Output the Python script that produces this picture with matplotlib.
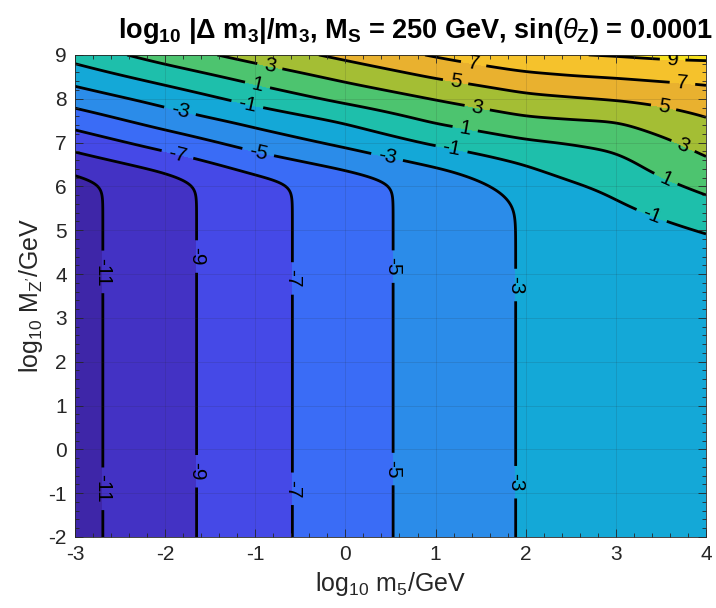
import numpy as np
import matplotlib
matplotlib.use('Agg')
import matplotlib.pyplot as plt
from matplotlib.ticker import MultipleLocator

plt.rcParams['font.family'] = ['Liberation Sans', 'DejaVu Sans']
plt.rcParams['axes.unicode_minus'] = False
plt.rcParams['contour.negative_linestyle'] = 'solid'
plt.rcParams['mathtext.fontset'] = 'custom'
plt.rcParams['mathtext.rm'] = 'Liberation Sans'
plt.rcParams['mathtext.it'] = 'Liberation Sans:italic'
plt.rcParams['mathtext.bf'] = 'Liberation Sans:bold'

# grid nodes in log10 m5 / log10 MZ'
x_nodes = np.array([-3, -2, -1, 0, 1, 2, 2.5, 3, 3.5, 4])
y_nodes = np.array([-2, 4, 4.5, 5, 5.5, 6, 6.5, 7, 7.5, 8, 8.5, 9])

# log10 of the m5 piece (no MZ' dependence)
mass_term = np.array([-11.6, -9.66, -7.77, -5.9, -4.2, -2.85, -2.45, -2.2, -2.05, -1.95])

# log10 of the Z' piece, one row per y node, one column per x node
zprime_term = np.array([
    [-44.1, -42.3, -40.1, -38.5, -36.8, -31.2, -30.0, -28.1, -27.7, -27.2],
    [-20.1, -18.3, -16.1, -14.5, -12.76, -7.2, -6.0, -4.08, -3.7, -3.2],
    [-18.1, -16.3, -14.1, -12.5, -10.76, -5.95, -4.8, -3.18, -2.6, -2.0],
    [-16.1, -14.3, -12.1, -10.5, -8.76, -4.7, -3.6, -2.28, -1.57, -0.86],
    [-14.1, -12.3, -10.1, -8.5, -6.76, -3.45, -2.4, -1.38, -0.51, 0.3],
    [-12.1, -10.3, -8.1, -6.5, -4.76, -2.2, -1.28, -0.49, 0.55, 1.45],
    [-10.12, -8.27, -6.1, -4.5, -2.75, -0.93, -0.11, 0.40, 1.6, 2.59],
    [-8.16, -6.16, -4.2, -2.54, -0.69, 0.73, 1.11, 1.5, 2.63, 3.7],
    [-6.16, -4.14, -2.4, -0.73, 1.26, 2.62, 2.89, 3.08, 3.97, 4.8],
    [-4.13, -2.27, -0.3, 1.5, 3.11, 4.51, 4.84, 5.16, 5.57, 6.08],
    [-2.15, -0.21, 1.7, 3.5, 5.16, 6.48, 6.88, 7.12, 7.4, 7.58],
    [-0.24, 1.9, 3.8, 5.5, 7.2, 8.76, 8.92, 9.12, 9.4, 9.5],
])

line_levels = [-11, -9, -7, -5, -3, -1, 1, 3, 5, 7, 9]
fill_levels = [-60] + line_levels + [60]
band_colors = ['#3e26a8', '#4332c4', '#4549e7', '#3a6cf6', '#2b8ce9', '#14a8d7',
               '#1ebfab', '#4dc46f', '#a4be34', '#e9b12f', '#f5c22c', '#f7e11e']

# where the contour labels sit
label_pos = [(-2.71, -0.9), (-1.66, -0.5), (-0.58, -0.9), (0.535, -0.45), (1.86, -0.75),
             (-2.71, 4.05), (-1.66, 4.4), (-0.58, 3.9), (0.535, 4.17), (1.86, 3.75),
             (-0.84, 8.73), (-0.98, 8.27), (-1.09, 7.86), (-1.84, 7.68), (-0.97, 6.76), (-1.87, 6.67),
             (1.42, 8.77), (1.22, 8.36), (1.46, 7.77), (1.33, 7.33), (1.18, 6.88), (0.46, 6.65),
             (3.63, 8.89), (3.74, 8.38), (3.53, 7.81), (3.74, 6.90), (3.55, 6.15), (3.40, 5.35)]


def blur(a, sigma, axis):
    # gaussian smoothing along one axis, odd reflection keeps edge slopes
    r = int(3 * sigma)
    k = np.exp(-0.5 * (np.arange(-r, r + 1) / sigma) ** 2)
    k /= k.sum()
    a = np.moveaxis(a, axis, -1)
    p = np.pad(a, [(0, 0), (r, r)], mode='reflect', reflect_type='odd')
    out = np.array([np.convolve(row, k, mode='valid') for row in p])
    return np.moveaxis(out, -1, axis)


# put both pieces on a fine mesh and add them
xf = np.linspace(-3, 4, 701)
yf = np.linspace(-2, 9, 1101)
rows = np.array([np.interp(xf, x_nodes, r) for r in zprime_term])
zp = np.array([np.interp(yf, y_nodes, rows[:, j]) for j in range(len(xf))]).T
zp = blur(blur(zp, 14, 1), 8, 0)
ms = np.interp(xf, x_nodes, mass_term)
Z = np.log10(10.0**ms[None, :] + 10.0**zp)

fig = plt.figure(figsize=(7.16, 6.08), dpi=100)
ax = fig.add_axes([0.1047, 0.1168, 0.8813, 0.7928])

ax.contourf(xf, yf, Z, levels=fill_levels, colors=band_colors)
cs = ax.contour(xf, yf, Z, levels=line_levels, colors='k', linewidths=2.0,
                linestyles='solid')
ax.clabel(cs, manual=label_pos, inline=True, inline_spacing=7, fontsize=15,
          fmt=lambda v: '%d' % v)

ax.set_xlim(-3, 4)
ax.set_ylim(-2, 9)
ax.set_xticks(range(-3, 5))
ax.set_yticks(range(-2, 10))
ax.xaxis.set_minor_locator(MultipleLocator(0.2))
ax.yaxis.set_minor_locator(MultipleLocator(0.2))
ax.tick_params(which='both', direction='in', top=True, right=True, colors='#262626',
               labelsize=15, width=0.6)
ax.tick_params(which='major', length=6, pad=6)
ax.tick_params(which='minor', length=3)
ax.grid(True, which='major', color='#262626', alpha=0.15, linewidth=0.6)
ax.set_axisbelow(False)
for s in ax.spines.values():
    s.set_color('#262626')
    s.set_linewidth(0.6)

ax.set_xlabel(r'log$_{10}$ m$_5$/GeV', fontsize=18, color='#262626', labelpad=4)
ax.set_ylabel(r'log$_{10}$ M$_{\mathrm{Z}^{\prime}}$/GeV', fontsize=18, color='#262626',
              labelpad=2)
ax.set_title(r'log$_\mathbf{10}$ |$\mathbf{\Delta}$ m$_\mathbf{3}$|/m$_\mathbf{3}$, '
             r'M$_\mathbf{S}$ = 250 GeV, sin($\theta_\mathbf{Z}$) = 0.0001',
             fontsize=19.5, fontweight='bold', x=0.54, pad=12)

fig.savefig('out.png', dpi=100)
